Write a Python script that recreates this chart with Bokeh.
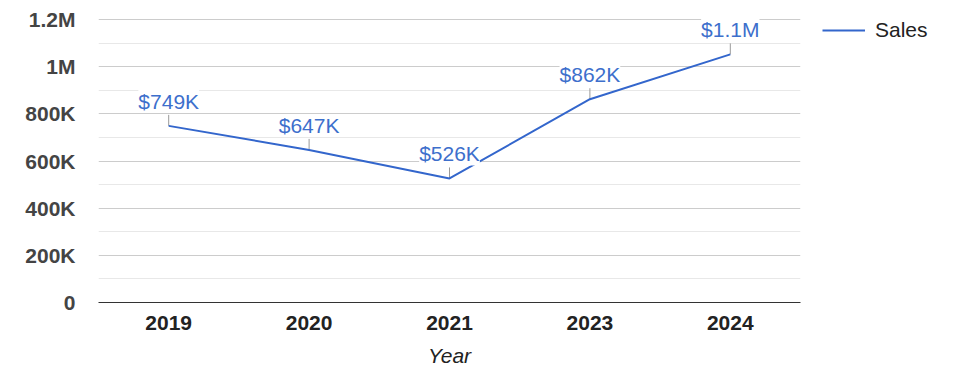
from bokeh.plotting import figure
from bokeh.models import (ColumnDataSource, FixedTicker, Legend, LegendItem)
from bokeh.core.properties import value
from bokeh.embed import file_html
from bokeh.resources import INLINE

years = ["2019", "2020", "2021", "2023", "2024"]
sales = [749000, 647000, 526000, 862000, 1052000]
sales_labels = ["$749K", "$647K", "$526K", "$862K", "$1.1M"]
y_ticks = [0, 200000, 400000, 600000, 800000, 1000000, 1200000]
y_tick_labels = ["0", "200K", "400K", "600K", "800K", "1M", "1.2M"]
y_minor_ticks = [100000, 300000, 500000, 700000, 900000, 1100000]

FONT = "Liberation Sans"
LINE_COLOR = "#3366cc"

frame_h = 284
y_max = 1200000
px = y_max / 283
leader = [v + 11 * px for v in sales]

src = ColumnDataSource(dict(x=years, y=sales, lab=sales_labels, y1=leader))

p = figure(x_range=years, y_range=(0, y_max + px), frame_width=702,
           frame_height=frame_h,
           output_backend="svg", toolbar_location=None,
           min_border_left=98, min_border_right=0, min_border_top=18,
           min_border_bottom=68)
p.outline_line_color = None
p.background_fill_color = "white"

p.xgrid.grid_line_color = None
p.ygrid.grid_line_color = "#cccccc"
p.ygrid.minor_grid_line_color = "#e8e8e8"
p.yaxis.ticker = FixedTicker(ticks=y_ticks, minor_ticks=y_minor_ticks)
p.yaxis.major_label_overrides = dict(zip(y_ticks, y_tick_labels))
p.yaxis.axis_line_color = None
p.yaxis.major_tick_line_color = None
p.yaxis.minor_tick_line_color = None
p.yaxis.major_label_text_font = FONT
p.yaxis.major_label_text_font_size = "21px"
p.yaxis.major_label_text_font_style = "bold"
p.yaxis.major_label_text_color = "#444444"
p.yaxis.major_label_standoff = 17

p.xaxis.axis_line_color = "#333333"
p.xaxis.major_tick_line_color = None
p.xaxis.minor_tick_line_color = None
p.xaxis.major_label_text_font = FONT
p.xaxis.major_label_text_font_size = "21px"
p.xaxis.major_label_text_font_style = "bold"
p.xaxis.major_label_text_color = "#222222"
p.xaxis.major_label_standoff = 7
p.xaxis.axis_label = "Year"
p.xaxis.axis_label_text_font = FONT
p.xaxis.axis_label_text_font_size = "21px"
p.xaxis.axis_label_text_font_style = "italic"
p.xaxis.axis_label_text_color = "#222222"
p.xaxis.axis_label_standoff = 11

p.segment(x0="x", y0="y", x1="x", y1="y1", source=src,
          line_color="#999999", line_width=1)
r = p.line(x="x", y="y", source=src, line_color=LINE_COLOR, line_width=2)
p.text(x="x", y="y1", text="lab", source=src, text_align="center",
       text_baseline="bottom", y_offset=-2,
       text_font=value(FONT), text_font_size="21px", text_color="#3d6fcc",
       background_fill_color="white")

legend = Legend(items=[LegendItem(label="Sales", renderers=[r])],
                location=(22, 260), padding=0, margin=0, spacing=0,
                border_line_color=None, background_fill_alpha=0,
                glyph_width=43, glyph_height=16, label_standoff=10,
                label_height=16,
                label_text_font=FONT, label_text_font_size="21px",
                label_text_color="#222222", label_text_baseline="middle")
p.add_layout(legend, "right")

open("out.html", "w").write(file_html(p, INLINE))
